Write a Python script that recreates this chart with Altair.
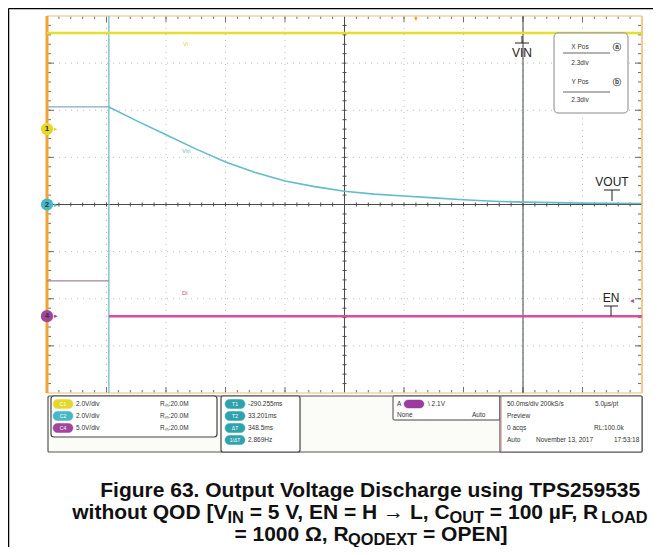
import altair as alt
import pandas as pd

# ---------------- data (oscilloscope divisions: x 0..10, y -4..4) ----------------
pre_t = [0.0, 1.04]                 # pre-trigger part
vout_pre = [2.07, 2.07]
en_pre = [-1.62, -1.62]
decay_t = [1.04, 1.5, 2.0, 2.5, 3.0, 3.5, 4.0, 4.5, 5.0, 5.5, 6.0, 6.5, 7.0, 7.5, 8.0, 9.0, 10.0]
vout_decay = [2.07, 1.78, 1.48, 1.18, 0.90, 0.68, 0.50, 0.38, 0.28, 0.22, 0.18, 0.14, 0.10, 0.07, 0.05, 0.03, 0.02]
vin_t = [0.0, 10.0]
vin_v = [3.64, 3.64]
en_t = [1.04, 10.0]
en_v = [-2.37, -2.37]
cursor_a = 1.04
cursor_b = 8.0
ch_labels = ["1", "2", "4"]
ch_levels = [1.60, 0.0, -2.37]
ch_colors = ["#e6d82a", "#44b8c8", "#a2439e"]

caption_lines = [
    [("Figure 63. Output Voltage Discharge using TPS259535", False)],
    [("without QOD [V", False), ("IN", True), (" = 5 V, EN = H \u2192 L, C", False), ("OUT", True),
     (" = 100 \u00b5F, R", False), ("LOAD", True)],
    [("= 1000 \u03a9, R", False), ("QODEXT", True), (" = OPEN]", False)],
]

panel_ch_rows = [("2.0V/div", "R\u2098:20.0M"), ("2.0V/div", "R\u2098:20.0M"), ("5.0V/div", "R\u2098:20.0M")]
panel_meas = ["-290.255ms", "33.201ms", "348.5ms", "2.869Hz"]

# ---------------- layout ----------------
W, H = 595, 377
X0, Y0 = 47, 16   # page position of plot origin
xs = alt.Scale(domain=[0, 10], nice=False, zero=False)
ys = alt.Scale(domain=[-4, 4], nice=False, zero=False)
one = pd.DataFrame({"a": [0]})
FONT = "Liberation Sans"


def vx(p):
    return alt.value(p - X0)


def vy(p):
    return alt.value(p - Y0)


def txt(s, x, y, size=7, color="#333333", align="left", weight="normal", baseline="middle"):
    return alt.Chart(one).mark_text(text=s, align=align, baseline=baseline, fontSize=size,
                                    color=color, font=FONT, fontWeight=weight).encode(x=vx(x), y=vy(y))


def rule(x1, y1, x2, y2, color, width=1.0, dash=None):
    kw = dict(color=color, strokeWidth=width)
    if dash:
        kw["strokeDash"] = dash
    return alt.Chart(one).mark_rule(**kw).encode(x=vx(x1), y=vy(y1), x2=vx(x2), y2=vy(y2))


def rect(x1, y1, x2, y2, fill="#ffffff", stroke="#555555", sw=1.0, radius=0, opacity=1.0):
    return alt.Chart(one).mark_rect(fill=fill, stroke=stroke, strokeWidth=sw, cornerRadius=radius,
                                    opacity=opacity).encode(x=vx(x1), y=vy(y1), x2=vx(x2), y2=vy(y2))


layers = []

# outer figure border (left / top)
layers.append(rule(8.5, 8.5, 8.5, 560, "#000000", 1.5))
layers.append(rule(8.5, 8.5, 670, 8.5, "#000000", 1.5))

# ---------------- graticule ----------------
grid_x = [1, 2, 3, 4, 6, 7, 8, 9]
grid_y = [-3, -2, -1, 1, 2, 3]
layers.append(alt.Chart(pd.DataFrame({"g": grid_x})).mark_rule(color="#bdbdbd", strokeDash=[1, 5], strokeWidth=1)
              .encode(x=alt.X("g:Q", scale=xs, axis=None)))
layers.append(alt.Chart(pd.DataFrame({"g": grid_y})).mark_rule(color="#bdbdbd", strokeDash=[1, 5], strokeWidth=1)
              .encode(y=alt.Y("g:Q", scale=ys, axis=None)))

minor_x = [i / 5 for i in range(1, 50)]
minor_y = [-4 + i / 5 for i in range(1, 40)]
major_x = [float(i) for i in range(1, 10)]
major_y = [float(i) for i in range(-3, 4)]
cx, cy = W / 2, H / 2

tx = pd.DataFrame({"t": minor_x})
ty = pd.DataFrame({"t": minor_y})
mx = pd.DataFrame({"t": major_x})
my = pd.DataFrame({"t": major_y})
tick_col = "#707070"
# frame ticks
layers.append(alt.Chart(tx).mark_rule(color=tick_col, strokeWidth=1).encode(
    x=alt.X("t:Q", scale=xs, axis=None), y=alt.value(0), y2=alt.value(3)))
layers.append(alt.Chart(mx).mark_rule(color=tick_col, strokeWidth=1).encode(
    x=alt.X("t:Q", scale=xs, axis=None), y=alt.value(0), y2=alt.value(6)))
layers.append(alt.Chart(tx).mark_rule(color=tick_col, strokeWidth=1).encode(
    x=alt.X("t:Q", scale=xs, axis=None), y=alt.value(H - 3), y2=alt.value(H)))
layers.append(alt.Chart(mx).mark_rule(color=tick_col, strokeWidth=1).encode(
    x=alt.X("t:Q", scale=xs, axis=None), y=alt.value(H - 6), y2=alt.value(H)))
layers.append(alt.Chart(ty).mark_rule(color=tick_col, strokeWidth=1).encode(
    y=alt.Y("t:Q", scale=ys, axis=None), x=alt.value(0), x2=alt.value(4)))
layers.append(alt.Chart(my).mark_rule(color=tick_col, strokeWidth=1).encode(
    y=alt.Y("t:Q", scale=ys, axis=None), x=alt.value(0), x2=alt.value(7)))
layers.append(alt.Chart(ty).mark_rule(color=tick_col, strokeWidth=1).encode(
    y=alt.Y("t:Q", scale=ys, axis=None), x=alt.value(W - 4), x2=alt.value(W)))
layers.append(alt.Chart(my).mark_rule(color=tick_col, strokeWidth=1).encode(
    y=alt.Y("t:Q", scale=ys, axis=None), x=alt.value(W - 7), x2=alt.value(W)))
# centre cross
layers.append(alt.Chart(one).mark_rule(color="#4a4a4a", strokeWidth=1).encode(
    x=alt.value(cx), y=alt.value(0), y2=alt.value(H)))
layers.append(alt.Chart(one).mark_rule(color="#4a4a4a", strokeWidth=1).encode(
    y=alt.value(cy), x=alt.value(0), x2=alt.value(W)))
layers.append(alt.Chart(tx).mark_rule(color="#4a4a4a", strokeWidth=1).encode(
    x=alt.X("t:Q", scale=xs, axis=None), y=alt.value(cy - 2), y2=alt.value(cy + 2)))
layers.append(alt.Chart(ty).mark_rule(color="#4a4a4a", strokeWidth=1).encode(
    y=alt.Y("t:Q", scale=ys, axis=None), x=alt.value(cx - 2), x2=alt.value(cx + 2)))

# frame border lines
layers.append(alt.Chart(one).mark_rule(color="#f3d2a4", strokeWidth=1.5).encode(
    y=alt.value(0), x=alt.value(0), x2=alt.value(W)))
layers.append(alt.Chart(one).mark_rule(color="#f3d2a4", strokeWidth=1.5).encode(
    y=alt.value(H), x=alt.value(0), x2=alt.value(W)))
layers.append(alt.Chart(one).mark_rule(color="#f3c98e", strokeWidth=2).encode(
    x=alt.value(W), y=alt.value(0), y2=alt.value(H)))
layers.append(alt.Chart(one).mark_rule(color="#f2a330", strokeWidth=3).encode(
    x=alt.value(0), y=alt.value(0), y2=alt.value(H)))

# cursors
layers.append(alt.Chart(pd.DataFrame({"c": [cursor_b]})).mark_rule(color="#3c4448", strokeWidth=1).encode(
    x=alt.X("c:Q", scale=xs, axis=None)))
layers.append(alt.Chart(pd.DataFrame({"c": [cursor_a]})).mark_rule(color="#6fbccb", strokeWidth=1.3).encode(
    x=alt.X("c:Q", scale=xs, axis=None)))

# ---------------- traces ----------------
def line(t, v, color, width):
    df = pd.DataFrame({"t": t, "v": v})
    return alt.Chart(df).mark_line(color=color, strokeWidth=width).encode(
        x=alt.X("t:Q", scale=xs, axis=None), y=alt.Y("v:Q", scale=ys, axis=None))


layers.append(line(vin_t, vin_v, "#e4df2c", 2.5))
layers.append(line(pre_t, vout_pre, "#8fa8b6", 1.2))
layers.append(line(decay_t, vout_decay, "#62bccb", 1.6))
layers.append(line(pre_t, en_pre, "#a48496", 1.2))
layers.append(line(en_t, en_v, "#d2509c", 2.6))

# channel markers
chdf = pd.DataFrame({"lvl": ch_levels, "lab": ch_labels, "col": ch_colors})
layers.append(alt.Chart(chdf).mark_point(shape="circle", filled=True, size=150, opacity=1).encode(
    y=alt.Y("lvl:Q", scale=ys, axis=None), x=alt.value(0),
    color=alt.Color("col:N", scale=None, legend=None)))
layers.append(alt.Chart(chdf).mark_text(fontSize=8, font=FONT, fontWeight="bold", color="#333333").encode(
    y=alt.Y("lvl:Q", scale=ys, axis=None), x=alt.value(0), text="lab:N"))
layers.append(alt.Chart(chdf).mark_text(fontSize=7, font=FONT, text="\u25b8").encode(
    y=alt.Y("lvl:Q", scale=ys, axis=None), x=alt.value(9),
    color=alt.Color("col:N", scale=None, legend=None)))

# small trace labels
layers.append(txt("Vi", 183, 44, 6, "#d8d030"))
layers.append(txt("Vin", 182, 151, 6, "#62bccb"))
layers.append(txt("Di", 182, 293, 6, "#c04a90"))

# trigger marker top & level arrow right
layers.append(txt("\u25bc", 416, 19, 6, "#f0a030", "center"))
layers.append(txt("\u25c2", 632, 301, 8, "#c04a90", "center"))

# VIN marker (stem above bar, text below)
layers.append(rule(522, 36, 522, 43, "#222222", 1))
layers.append(rule(515, 43, 529, 43, "#222222", 1))
layers.append(txt("VIN", 522, 53, 12, "#222222", "center"))
# VOUT marker
layers.append(txt("VOUT", 612, 182, 12, "#222222", "center"))
layers.append(rule(604, 190, 620, 190, "#222222", 1))
layers.append(rule(612, 190, 612, 201, "#222222", 1))
# EN marker
layers.append(txt("EN", 611, 298, 12, "#222222", "center"))
layers.append(rule(604, 306, 618, 306, "#222222", 1))
layers.append(rule(611, 306, 611, 316, "#222222", 1))

# X/Y pos box
layers.append(rect(554, 33, 628, 113, "#ffffff", "#888888", 1, 4))
layers.append(txt("X Pos", 580, 47, 6.5, "#333333", "center"))
layers.append(rule(563, 53, 610, 53, "#666666", 1))
layers.append(txt("2.3div", 580, 63, 6.5, "#333333", "center"))
layers.append(txt("Y Pos", 580, 82, 6.5, "#333333", "center"))
layers.append(rule(563, 92, 610, 92, "#666666", 1))
layers.append(txt("2.3div", 580, 100, 6.5, "#333333", "center"))
for lab, yy in (("a", 47), ("b", 82)):
    layers.append(alt.Chart(one).mark_point(shape="circle", size=60, color="#444444", strokeWidth=1).encode(
        x=vx(617), y=vy(yy)))
    layers.append(txt(lab, 617, yy, 6.5, "#333333", "center", "bold"))

# ---------------- bottom status panel ----------------
layers.append(rect(48, 396, 642, 452, "#fbfbf8", "#555555", 1.2, 1))
layers.append(rect(51, 396, 217, 437, "#ffffff", "#444444", 1.2, 3))
row_y = [404, 416, 428, 440]
for i, (a, b) in enumerate(panel_ch_rows):
    layers.append(rect(53, row_y[i] - 4.5, 73, row_y[i] + 4.5, ch_colors[i], ch_colors[i], 0.5, 4.5))
    layers.append(txt("C" + ch_labels[i], 63, row_y[i], 5, "#ffffff", "center"))
    layers.append(txt(a, 76, row_y[i], 6.5))
    layers.append(txt(b, 160, row_y[i], 6.5))

layers.append(rect(221, 396, 300, 452, "#ffffff", "#444444", 1.2, 2))
meas_tags = ["T1", "T2", "\u0394T", "1/\u0394T"]
for i, m in enumerate(panel_meas):
    layers.append(rect(225, row_y[i] - 4.5, 245, row_y[i] + 4.5, "#2fa3ad", "#2fa3ad", 0.5, 4.5))
    layers.append(txt(meas_tags[i], 235, row_y[i], 5, "#ffffff", "center"))
    layers.append(txt(m, 248, row_y[i], 6.5))

layers.append(rect(393, 396, 500, 420, "#ffffff", "#444444", 1.0, 1))
layers.append(txt("A", 397, 404, 6.5))
layers.append(rect(404, 400, 424, 408, "#9b3aa0", "#9b3aa0", 0.5, 4))
layers.append(txt("\\ 2.1V", 428, 404, 6.5))
layers.append(txt("None", 397, 415, 6.5))
layers.append(txt("Auto", 472, 415, 6.5))

layers.append(rect(500, 396, 642, 452, "#ffffff", "#555555", 1.2, 1))
layers.append(rule(501, 397, 501, 451, "#d09090", 1.2))
layers.append(txt("50.0ms/div 200kS/s", 507, 404, 6.5))
layers.append(txt("5.0\u00b5s/pt", 595, 404, 6.5))
layers.append(txt("Preview", 507, 416, 6.5))
layers.append(txt("0 acqs", 507, 428, 6.5))
layers.append(txt("RL:100.0k", 594, 428, 6.5))
layers.append(txt("Auto", 507, 440, 6.5))
layers.append(txt("November 13, 2017", 536, 440, 6.5))
layers.append(txt("17:53:18", 614, 440, 6.5))

# ---------------- caption with subscripts ----------------
AW = {' ': 278, '.': 278, ',': 278, '[': 333, ']': 333, '=': 584, '\u2192': 900, '\u00b5': 611, '\u03a9': 768,
      '0': 556, '1': 556, '2': 556, '3': 556, '4': 556, '5': 556, '6': 556, '7': 556, '8': 556, '9': 556,
      'A': 722, 'C': 722, 'D': 722, 'E': 667, 'F': 611, 'H': 722, 'I': 278, 'L': 611, 'N': 722, 'O': 778,
      'P': 667, 'Q': 778, 'R': 722, 'S': 667, 'T': 611, 'U': 722, 'V': 667, 'X': 667,
      'a': 556, 'c': 556, 'e': 556, 'g': 611, 'h': 611, 'i': 278, 'l': 278, 'n': 611, 'o': 611, 'p': 611,
      'r': 389, 's': 556, 't': 333, 'u': 611, 'w': 778}
FS = 21
SUB = 0.78


def seg_w(s, size):
    return sum(AW.get(c, 600) for c in s) * size / 1000.0


centers = [371, 360, 371]
baselines = [497, 519, 541]
for segs, cxp, bl in zip(caption_lines, centers, baselines):
    total = sum(seg_w(s, FS * SUB if sub else FS) for s, sub in segs)
    xcur = cxp - total / 2
    for s, sub in segs:
        size = FS * SUB if sub else FS
        lead = len(s) - len(s.lstrip(" "))
        shown = s.strip(" ")
        layers.append(txt(shown, xcur + lead * AW[" "] * size / 1000.0, bl + (FS * 0.2 if sub else 0), size,
                          "#111111", "left", "bold", "alphabetic"))
        xcur += seg_w(s, size)

chart = alt.layer(*layers).properties(
    width=W, height=H,
    padding={"left": X0 - 8, "top": Y0 - 8, "right": 661 - 8 - (X0 - 8) - W - 8, "bottom": 154},
    autosize=alt.AutoSizeParams(type="none"),
    background="#ffffff",
).configure_view(stroke=None)

chart.save("out.html", embed_options={"renderer": "svg", "actions": False})
